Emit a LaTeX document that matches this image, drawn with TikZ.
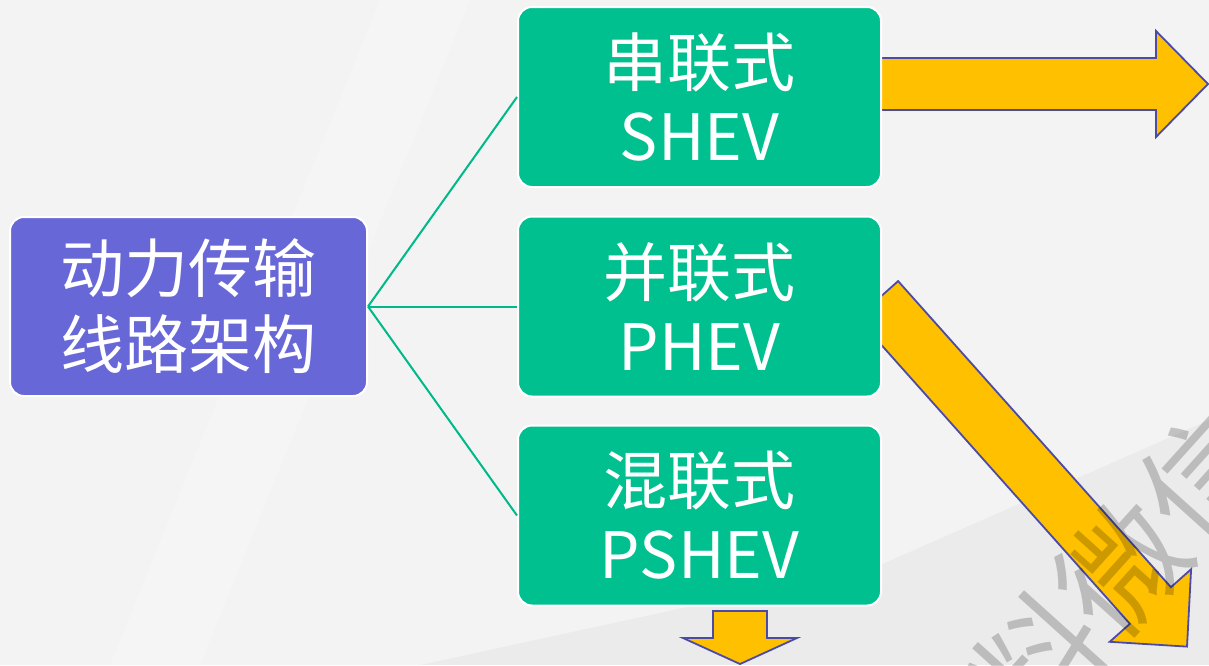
\documentclass[tikz,border=0pt]{standalone}
\usepackage{fontspec}
\setmainfont{Noto Sans CJK SC}
\definecolor{bgbase}{HTML}{EBEBEB}
\definecolor{bglight}{HTML}{F3F3F3}
\definecolor{purplebox}{HTML}{6767D8}
\definecolor{greenbox}{HTML}{00C08F}
\definecolor{greenline}{HTML}{00B98A}
\definecolor{arrowfill}{HTML}{FFC000}
\definecolor{arrowedge}{HTML}{4B4BA6}
\tikzset{
  boxbase/.style={rectangle, rounded corners=14pt, draw=white, line width=2pt,
    minimum width=363pt, minimum height=180pt, inner sep=0pt, align=center,
    text=white, font=\fontsize{64}{74}\selectfont},
  greenstyle/.style={boxbase, fill=greenbox},
  purplestyle/.style={boxbase, fill=purplebox, minimum width=357pt, minimum height=179pt, font=\fontsize{64}{76}\selectfont},
  fatarrow/.style={fill=arrowfill, draw=arrowedge, line width=1.8pt, line join=miter},
  linkline/.style={draw=greenline, line width=2pt},
  watermark/.style={text=black, opacity=0.2, font=\fontsize{124}{124}\selectfont, rotate=48}
}
\begin{document}
\begin{tikzpicture}[x=1pt,y=-1pt]
\useasboundingbox (0,0) rectangle (1209,665);
% background
\fill[bgbase] (0,0) rectangle (1209,665);
\fill[bglight] (0,0) -- (1209,0) -- (1209,420) -- (880,565) -- (420,665) -- (0,665) -- cycle;
\fill[white, opacity=0.18] (380,0) -- (470,0) -- (200,665) -- (110,665) -- cycle;
% arrows (behind the boxes)
\draw[fatarrow] (870,58) -- (1156,58) -- (1156,31) -- (1208,84) -- (1156,137) -- (1156,110) -- (870,110) -- cycle;
\draw[fatarrow] (898.1,281.1) -- (1170.9,587.2) -- (1191.1,569.2) -- (1187.0,646.6) -- (1109.7,641.8) -- (1129.9,623.8) -- (857.1,317.7) -- cycle;
\draw[fatarrow] (713,611) -- (767,611) -- (767,638) -- (797,638) -- (740,664) -- (683,638) -- (713,638) -- cycle;
% boxes
\node[purplestyle] (root) at (188.5,306.5) {动力传输\\线路架构};
\node[greenstyle] (s) at (699.5,97) {串联式\\SHEV};
\node[greenstyle] (p) at (699.5,306.5) {并联式\\PHEV};
\node[greenstyle] (ps) at (699.5,515.5) {混联式\\PSHEV};
% connectors
\draw[linkline] (root.east) -- (s.west);
\draw[linkline] (root.east) -- (p.west);
\draw[linkline] (root.east) -- (ps.west);
% watermark
\node[watermark] (wm) at (1122,568) {料微信};
\end{tikzpicture}
\end{document}
